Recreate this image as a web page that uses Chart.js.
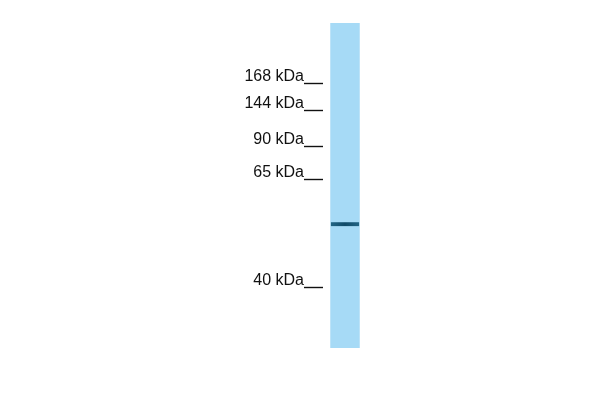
<!DOCTYPE html>
<html>
<head>
<meta charset="utf-8">
<script src="https://cdn.jsdelivr.net/npm/chart.js@4/dist/chart.umd.min.js"></script>
<style>
  html, body { margin: 0; padding: 0; background: #fff; }
  #chart { display: block; }
</style>
</head>
<body>
<canvas id="chart" width="600" height="400"></canvas>
<script>
// one lane, migration measured as % of lane length (0 = well, 100 = bottom)
var lanes = ['Lane 1'];
var laneSpan = [0, 100];
var markerLabels = ['168 kDa', '144 kDa', '90 kDa', '65 kDa', '40 kDa'];
var markerPos = [18.5, 26.8, 37.9, 48.2, 81.3];
var bandSpan = [61.3, 62.5];

var ctx = document.getElementById("chart").getContext("2d");

function bandFill(context){
  var area = context.chart.chartArea;
  if(!area) return '#1b5b7c';
  var el = context.element;
  var x0 = el && el.x ? el.x - el.width / 2 : area.left;
  var x1 = el && el.x ? el.x + el.width / 2 : area.right;
  var g = context.chart.ctx.createLinearGradient(x0, 0, x1, 0);
  g.addColorStop(0, 'rgba(60,140,180,0.3)');
  g.addColorStop(0.15, 'rgba(28,96,128,0.95)');
  g.addColorStop(0.5, 'rgba(16,74,104,1)');
  g.addColorStop(0.85, 'rgba(28,96,128,0.95)');
  g.addColorStop(1, 'rgba(60,140,180,0.3)');
  return g;
}

var blot = new Chart(ctx, {
  type: 'bar',
  data: {
    labels: lanes,
    datasets: [{
      label: 'band',
      data: [bandSpan],
      backgroundColor: bandFill,
      borderWidth: 0,
      grouped: false,
      barPercentage: 0.64,
      categoryPercentage: 1,
      order: 0
    }, {
      label: 'lane',
      data: [laneSpan],
      backgroundColor: 'rgb(166,218,246)',
      borderWidth: 0,
      grouped: false,
      barPercentage: 0.67,
      categoryPercentage: 1,
      order: 1
    }]
  },
  options: {
    responsive: false,
    animation: false,
    layout: { padding: { left: 233, right: 233, top: 23, bottom: 52 } },
    plugins: { legend: { display: false }, tooltip: { enabled: false } },
    scales: {
      x: { display: false, offset: true },
      y: {
        position: 'left',
        reverse: true,
        min: 0,
        max: 100,
        afterFit: function(s){ s.width = 90; },
        afterBuildTicks: function(s){
          s.ticks = markerPos.map(function(v){ return { value: v }; });
        },
        border: { display: false },
        grid: {
          drawOnChartArea: false,
          drawTicks: true,
          tickLength: 19,
          tickColor: '#111',
          tickWidth: 1.4
        },
        ticks: {
          padding: 0,
          labelOffset: -7,
          color: '#111',
          font: { family: 'Liberation Sans, Arial, sans-serif', size: 16 },
          callback: function(v, i){ return markerLabels[i]; }
        }
      }
    }
  }
});
</script>
</body>
</html>
